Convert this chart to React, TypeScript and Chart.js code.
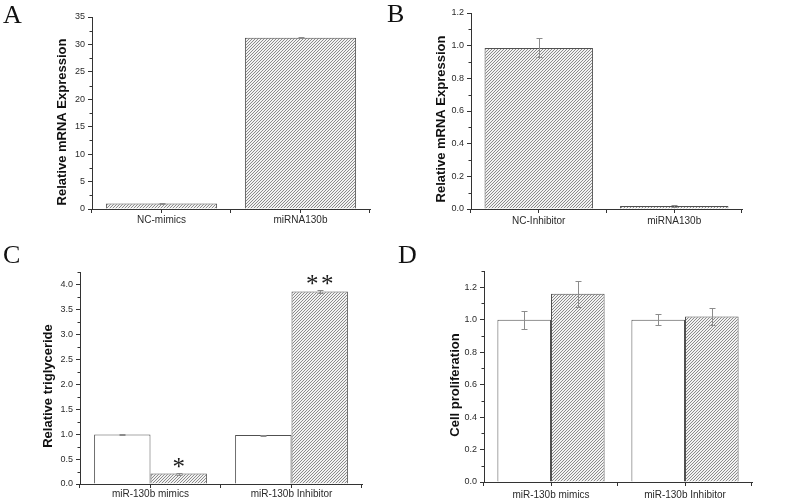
import React, { useEffect, useRef } from 'react';
import { Chart, registerables } from 'chart.js';

Chart.register(...registerables);

// ---------- data ----------
const aLabels = ['NC-mimics', 'miRNA130b'];
const aValues = [1.0, 31.2];
const aErrors = [0.06, 0.08];

const bLabels = ['NC-Inhibitor', 'miRNA130b'];
const bValues = [0.986, 0.018];
const bErrors = [0.058, 0.008];

const cLabels = ['miR-130b mimics', 'miR-130b Inhibitor'];
const cControl = [0.99, 0.98];
const cControlErr = [0.012, 0.012];
const cTreated = [0.21, 3.86];
const cTreatedErr = [0.02, 0.03];
const cStars = ['*', '**'];

const dLabels = ['miR-130b mimics', 'miR-130b Inhibitor'];
const dControl = [1.0, 1.0];
const dControlErr = [0.055, 0.035];
const dTreated = [1.16, 1.02];
const dTreatedErr = [0.08, 0.05];

const aTicks = { max: 35, step: 5, decimals: 0 };
const bTicks = { max: 1.2, step: 0.2, decimals: 1 };
const cTicks = { max: 4.25, step: 0.5, decimals: 1 };
const dTicks = { max: 1.3, step: 0.2, decimals: 1 };

// ---------- style ----------
const AXIS = '#333';
const SANS = '"Liberation Sans", Arial, Helvetica, sans-serif';
const SERIF = '"Liberation Serif", "Times New Roman", serif';
const EDGE = '#505050';

function makeHatch(): CanvasPattern | string {
  const c = document.createElement('canvas');
  c.width = 3;
  c.height = 3;
  const g = c.getContext('2d');
  if (!g) return '#bbb';
  g.fillStyle = '#f2f2f2';
  g.fillRect(0, 0, 3, 3);
  g.strokeStyle = '#707070';
  g.lineWidth = 0.8;
  g.beginPath();
  g.moveTo(0, 3);
  g.lineTo(3, 0);
  g.moveTo(-1, 1);
  g.lineTo(1, -1);
  g.moveTo(2, 4);
  g.lineTo(4, 2);
  g.stroke();
  return g.createPattern(c, 'repeat') || '#bbb';
}

const decor = {
  id: 'decor',
  afterDatasetsDraw(chart: any) {
    const ctx = chart.ctx;
    const ys = chart.scales.y;
    ctx.save();
    chart.data.datasets.forEach((ds: any, di: number) => {
      const meta = chart.getDatasetMeta(di);
      meta.data.forEach((el: any, i: number) => {
        const v = ds.data[i];
        const e = ds.errors ? ds.errors[i] : 0;
        const px = Math.round(el.x) + 0.5;
        const top = Math.round(ys.getPixelForValue(v + e)) + 0.5;
        const bot = Math.round(ys.getPixelForValue(Math.max(0, v - e))) + 0.5;
        if (e > 0) {
          ctx.strokeStyle = '#8c8c8c';
          ctx.lineWidth = 1;
          ctx.beginPath();
          ctx.moveTo(px, top);
          ctx.lineTo(px, bot);
          ctx.moveTo(px - 3, top);
          ctx.lineTo(px + 3, top);
          ctx.moveTo(px - 3, bot);
          ctx.lineTo(px + 3, bot);
          ctx.stroke();
        }
        const star = ds.stars ? ds.stars[i] : '';
        if (star) {
          ctx.fillStyle = '#1a1a1a';
          ctx.font = '25px ' + SERIF;
          ctx.textAlign = 'center';
          ctx.textBaseline = 'alphabetic';
          const chars = star.split('');
          const gap = 15;
          chars.forEach((ch: string, k: number) => {
            ctx.fillText(ch, el.x + (k - (chars.length - 1) / 2) * gap, top + 1);
          });
        }
      });
    });
    ctx.restore();
  },
  afterDraw(chart: any, _args: any, opts: any) {
    const ctx = chart.ctx;
    const area = chart.chartArea;
    const xs = chart.scales.x;
    const ys = chart.scales.y;
    ctx.save();
    ctx.strokeStyle = AXIS;
    ctx.lineWidth = 1;
    ctx.beginPath();
    // minor y ticks
    const step = opts.step;
    for (let k = 0; step * (k + 0.5) <= ys.max + 1e-9; k++) {
      const py = Math.round(ys.getPixelForValue(step * (k + 0.5))) + 0.5;
      ctx.moveTo(area.left - 2.5, py);
      ctx.lineTo(area.left, py);
    }
    // x boundary ticks
    const n = chart.data.labels.length;
    for (let i = 0; i <= n; i++) {
      const px = Math.round(xs.getPixelForValue(i - 0.5)) - 0.5;
      ctx.moveTo(px, area.bottom);
      ctx.lineTo(px, area.bottom + 4);
    }
    ctx.stroke();
    // y title
    ctx.fillStyle = '#111';
    ctx.font = 'bold 13px ' + SANS;
    ctx.textAlign = 'center';
    ctx.textBaseline = 'middle';
    ctx.translate(opts.titleX, opts.titleY);
    ctx.rotate(-Math.PI / 2);
    ctx.fillText(opts.title, 0, 0);
    ctx.restore();
  },
};

type Spec = {
  w: number;
  h: number;
  left: number;
  right: number;
  top: number;
  bottom: number;
  labels: string[];
  datasets: any[];
  ticks: { max: number; step: number; decimals: number };
  barPct: number;
  catPct: number;
  xPad: number;
  title: string;
  titleX: number;
  titleY: number;
};

function buildConfig(s: Spec): any {
  return {
    type: 'bar',
    data: { labels: s.labels, datasets: s.datasets },
    options: {
      animation: false,
      responsive: false,
      devicePixelRatio: 1,
      layout: { padding: { left: 0, top: s.top, right: s.w - s.right, bottom: 0 } },
      datasets: { bar: { barPercentage: s.barPct, categoryPercentage: s.catPct } },
      plugins: {
        legend: { display: false },
        tooltip: { enabled: false },
        decor: { step: s.ticks.step, title: s.title, titleX: s.titleX, titleY: s.titleY },
      },
      scales: {
        x: {
          type: 'category',
          offset: true,
          grid: { display: true, drawOnChartArea: false, drawTicks: true, tickLength: 4, color: AXIS, offset: false },
          border: { display: true, color: AXIS, width: 1 },
          ticks: { color: '#2a2a2a', font: { family: SANS, size: 10 }, padding: s.xPad, maxRotation: 0, autoSkip: false },
          afterFit: (sc: any) => {
            sc.height = s.h - s.bottom;
          },
        },
        y: {
          min: 0,
          max: s.ticks.max,
          grid: { display: true, drawOnChartArea: false, drawTicks: true, tickLength: 4, color: AXIS },
          border: { display: true, color: AXIS, width: 1 },
          ticks: {
            stepSize: s.ticks.step,
            includeBounds: false,
            color: '#2a2a2a',
            font: { family: SANS, size: 9 },
            padding: 3,
            callback: (v: any) => Number(v).toFixed(s.ticks.decimals),
          },
          afterFit: (sc: any) => {
            sc.width = s.left;
          },
        },
      },
    },
    plugins: [decor],
  };
}

function Panel({ spec, x, y }: { spec: () => Spec; x: number; y: number }) {
  const ref = useRef<HTMLCanvasElement>(null);
  const s = spec();
  useEffect(() => {
    if (!ref.current) return;
    const chart = new Chart(ref.current, buildConfig(spec()));
    return () => chart.destroy();
  }, []);
  return (
    <canvas
      ref={ref}
      width={s.w}
      height={s.h}
      style={{ position: 'absolute', left: x, top: y, width: s.w, height: s.h }}
    />
  );
}

const specA = (): Spec => ({
  w: 400, h: 240, left: 92, right: 370, top: 17, bottom: 209,
  labels: aLabels,
  datasets: [{ data: aValues, errors: aErrors, backgroundColor: makeHatch(), borderColor: EDGE, borderWidth: 1 }],
  ticks: aTicks, barPct: 0.8, catPct: 1, xPad: 1,
  title: 'Relative mRNA Expression', titleX: 62, titleY: 122,
});

const specB = (): Spec => ({
  w: 400, h: 240, left: 71, right: 342, top: 13, bottom: 209,
  labels: bLabels,
  datasets: [{ data: bValues, errors: bErrors, backgroundColor: makeHatch(), borderColor: EDGE, borderWidth: 1 }],
  ticks: bTicks, barPct: 0.8, catPct: 1, xPad: 2,
  title: 'Relative mRNA Expression', titleX: 41, titleY: 119,
});

const specC = (): Spec => ({
  w: 400, h: 263, left: 80, right: 362, top: 32, bottom: 244,
  labels: cLabels,
  datasets: [
    { data: cControl, errors: cControlErr, backgroundColor: '#ffffff', borderColor: EDGE, borderWidth: 1 },
    { data: cTreated, errors: cTreatedErr, stars: cStars, backgroundColor: makeHatch(), borderColor: EDGE, borderWidth: 1 },
  ],
  ticks: cTicks, barPct: 1, catPct: 0.8, xPad: 0,
  title: 'Relative triglyceride', titleX: 48, titleY: 146,
});

const specD = (): Spec => ({
  w: 400, h: 263, left: 84, right: 352, top: 31, bottom: 242,
  labels: dLabels,
  datasets: [
    { data: dControl, errors: dControlErr, backgroundColor: '#ffffff', borderColor: EDGE, borderWidth: 1 },
    { data: dTreated, errors: dTreatedErr, backgroundColor: makeHatch(), borderColor: EDGE, borderWidth: 1 },
  ],
  ticks: dTicks, barPct: 1, catPct: 0.8, xPad: 3,
  title: 'Cell proliferation', titleX: 55, titleY: 145,
});

const letterStyle = (left: number, top: number): React.CSSProperties => ({
  position: 'absolute',
  left,
  top,
  fontFamily: SERIF,
  fontSize: 26,
  lineHeight: 1,
  color: '#111',
});

export default function App() {
  return (
    <div style={{ position: 'absolute', left: 0, top: 0, width: 800, height: 503, background: '#fff', overflow: 'hidden' }}>
      <Panel spec={specA} x={0} y={0} />
      <Panel spec={specB} x={400} y={0} />
      <Panel spec={specC} x={0} y={240} />
      <Panel spec={specD} x={400} y={240} />
      <div style={letterStyle(3, 2)}>A</div>
      <div style={letterStyle(387, 1)}>B</div>
      <div style={letterStyle(3, 242)}>C</div>
      <div style={letterStyle(398, 242)}>D</div>
    </div>
  );
}
